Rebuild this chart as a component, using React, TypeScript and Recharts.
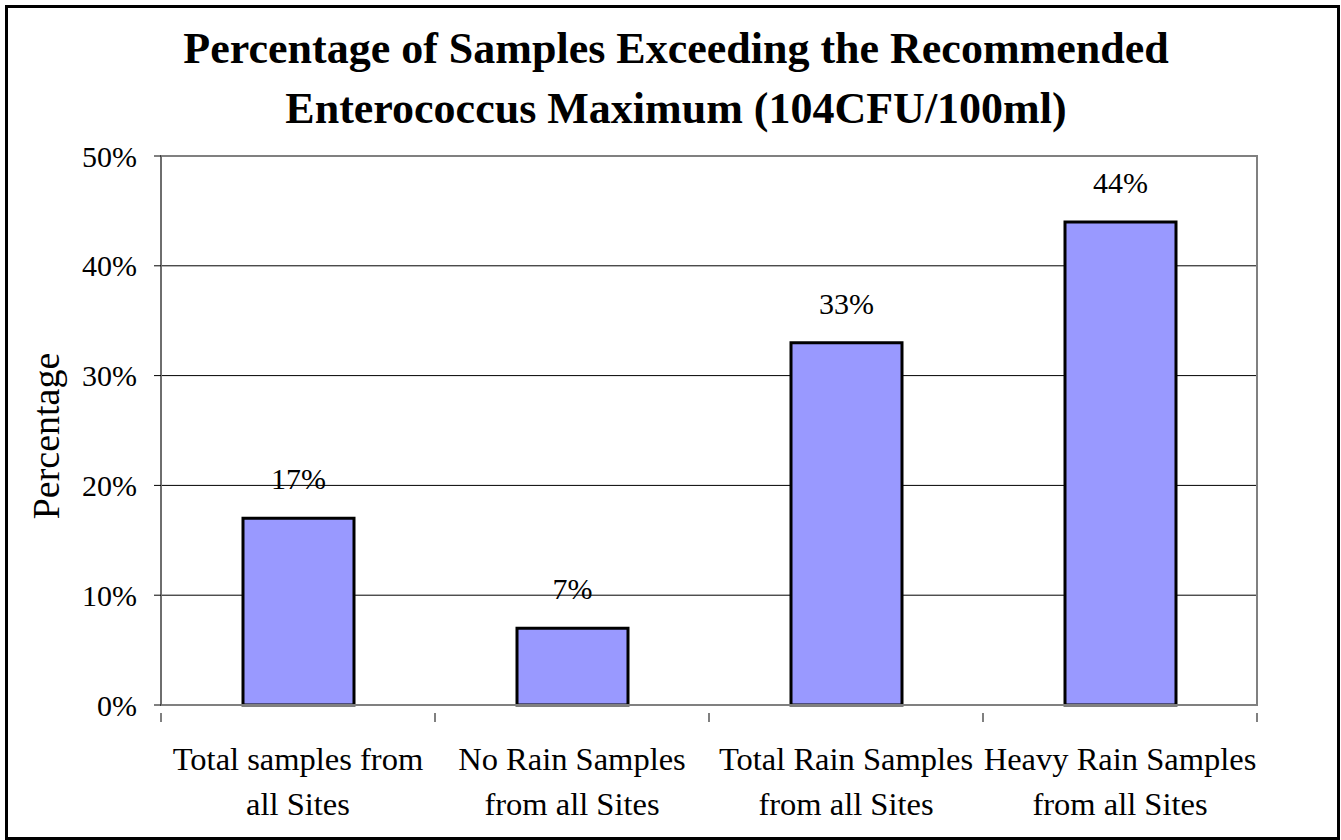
import { BarChart, Bar, XAxis, YAxis, CartesianGrid, LabelList, ReferenceArea } from "recharts";

const categories: string[] = [
  "Total samples from\nall Sites",
  "No Rain Samples\nfrom all Sites",
  "Total Rain Samples\nfrom all Sites",
  "Heavy Rain Samples\nfrom all Sites",
];
const percentages: number[] = [17, 7, 33, 44];
const yTicks: number[] = [0, 10, 20, 30, 40, 50];
const titleLines: string[] = [
  "Percentage of Samples Exceeding the Recommended",
  "Enterococcus Maximum (104CFU/100ml)",
];

const data = categories.map((name, i) => ({ name, value: percentages[i] }));

const W = 1341;
const H = 840;
const PLOT_LEFT = 161;
const PLOT_RIGHT = 1257;
const FONT = "'Liberation Serif', 'Times New Roman', serif";
const HALF_BAND = (PLOT_RIGHT - PLOT_LEFT) / categories.length / 2;

const CategoryTick = (props: any) => {
  const { x, y, payload, index } = props;
  const lines = String(payload.value).split("\n");
  return (
    <g>
      {index === 0 && (
        <line x1={x - HALF_BAND} x2={x - HALF_BAND} y1={y} y2={y + 9} stroke="#808080" strokeWidth={2} />
      )}
      <line x1={x + HALF_BAND} x2={x + HALF_BAND} y1={y} y2={y + 9} stroke="#808080" strokeWidth={2} />
      <text x={x} y={y + 57} textAnchor="middle" fontFamily={FONT} fontSize={32.5} fill="#000">
        {lines.map((l, i) => (
          <tspan key={i} x={x} dy={i === 0 ? 0 : 45}>
            {l}
          </tspan>
        ))}
      </text>
    </g>
  );
};

const App = () => {
  return (
    <div style={{ position: "absolute", left: 0, top: 0, width: W, height: H, background: "#fff" }}>
      <BarChart
        width={W}
        height={H}
        data={data}
        margin={{ top: 156, right: W - PLOT_RIGHT, bottom: 25, left: PLOT_LEFT - 100 }}
      >
        <CartesianGrid vertical={false} stroke="#000" strokeWidth={1} />
        <ReferenceArea y1={0} y2={50} fill="none" stroke="#808080" strokeWidth={2} />
        <XAxis
          dataKey="name"
          height={110}
          interval={0}
          tickLine={false}
          axisLine={{ stroke: "#808080", strokeWidth: 2 }}
          tick={<CategoryTick />}
        />
        <YAxis
          width={100}
          domain={[0, 50]}
          ticks={yTicks}
          tickFormatter={(v: number) => `${v}%`}
          tickSize={7}
          tickMargin={17}
          tickLine={{ stroke: "#000" }}
          axisLine={{ stroke: "#6e6e6e", strokeWidth: 2 }}
          tick={{ fontFamily: FONT, fontSize: 30, fill: "#000" }}
          label={{
            content: () => (
              <text
                x={46}
                y={436}
                transform="rotate(-90 46 436)"
                textAnchor="middle"
                dominantBaseline="central"
                fontFamily={FONT}
                fontSize={38}
                fill="#000"
              >
                Percentage
              </text>
            ),
          }}
        />
        <Bar dataKey="value" fill="#9999FF" stroke="#000" strokeWidth={3} barSize={111} isAnimationActive={false}>
          <LabelList
            dataKey="value"
            position="top"
            offset={29}
            formatter={(v: any) => `${v}%`}
            style={{ fontFamily: FONT, fontSize: 30, fill: "#000" }}
          />
        </Bar>
      </BarChart>
      <svg width={W} height={H} style={{ position: "absolute", left: 0, top: 0, pointerEvents: "none" }}>
        <rect x={6.5} y={6.5} width={1332} height={832} fill="none" stroke="#000" strokeWidth={3} />
        {titleLines.map((t, i) => (
          <text
            key={i}
            x={676}
            y={63 + i * 60}
            textAnchor="middle"
            fontFamily={FONT}
            fontWeight="bold"
            fontSize={44}
            fill="#000"
          >
            {t}
          </text>
        ))}
      </svg>
    </div>
  );
};

export default App;
